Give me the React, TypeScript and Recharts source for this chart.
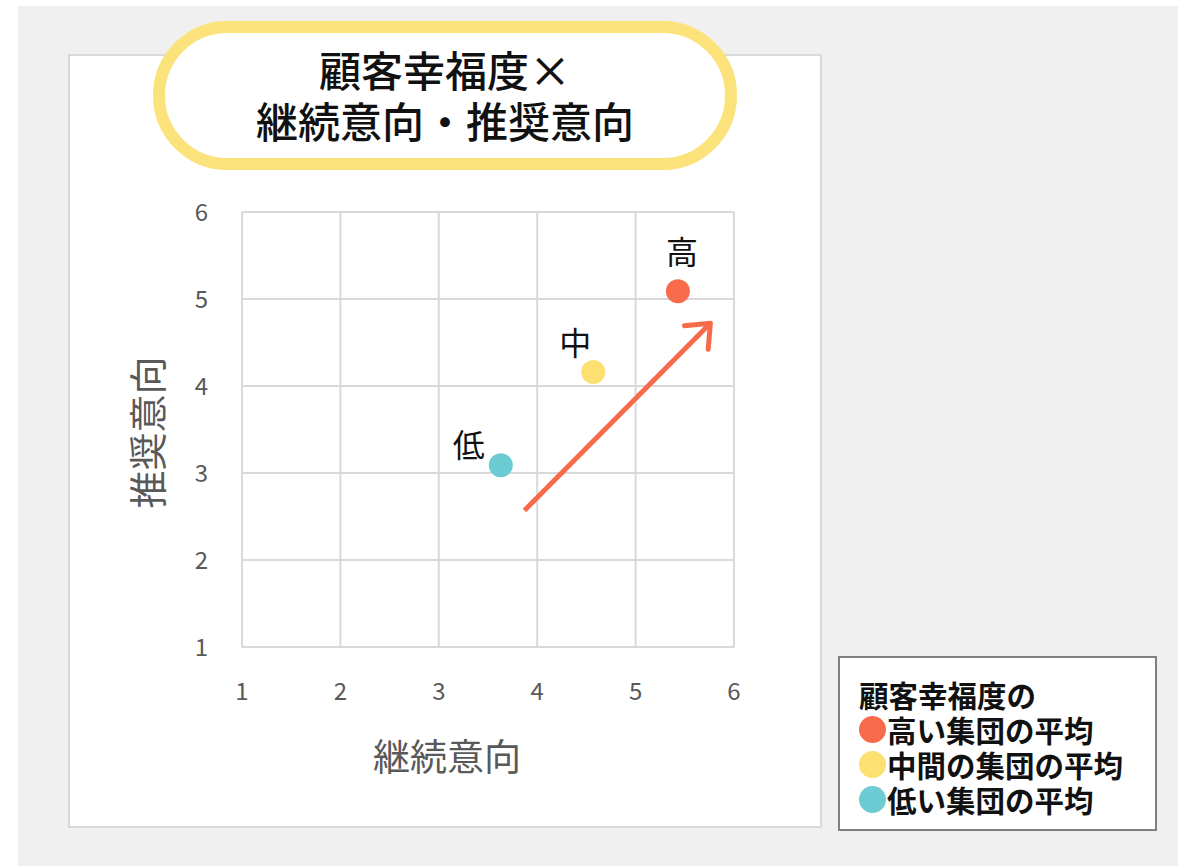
import React from 'react';
import {
  ScatterChart,
  Scatter,
  XAxis,
  YAxis,
  CartesianGrid,
  ReferenceLine,
} from 'recharts';

// group averages (継続意向, 推奨意向)
const groups = ['高', '中', '低'];
const continueIntent = [5.43, 4.57, 3.63];
const recommendIntent = [5.09, 4.16, 3.09];
const legendNames = ['高い集団の平均', '中間の集団の平均', '低い集団の平均'];
const axisTicks = [1, 2, 3, 4, 5, 6];
const arrowFrom = [3.87, 2.57];
const arrowTo = [5.76, 4.72];

const COLORS = ['#f76b4a', '#fce072', '#6ccbd3'];
const LABEL_OFFSET = [
  [4, -41],
  [-18, -31],
  [-32, -22],
];
const FONT = '"Noto Sans CJK JP", "Noto Sans", sans-serif';

const series = groups.map((g, i) => ({
  name: legendNames[i],
  color: COLORS[i],
  data: [{ x: continueIntent[i], y: recommendIntent[i], label: g }],
}));

function ArrowShape(props: any) {
  const { x1, y1, x2, y2 } = props;
  const ang = Math.atan2(y2 - y1, x2 - x1);
  const len = 26;
  const spread = (40 * Math.PI) / 180;
  const ax = x2 - len * Math.cos(ang - spread);
  const ay = y2 - len * Math.sin(ang - spread);
  const bx = x2 - len * Math.cos(ang + spread);
  const by = y2 - len * Math.sin(ang + spread);
  return (
    <g>
      <line x1={x1} y1={y1} x2={x2} y2={y2} stroke="#f76b4a" strokeWidth={5} />
      <polyline
        points={`${ax},${ay} ${x2},${y2} ${bx},${by}`}
        fill="none"
        stroke="#f76b4a"
        strokeWidth={5}
        strokeLinecap="round"
        strokeLinejoin="round"
      />
    </g>
  );
}

export default function App() {
  return (
    <div
      style={{
        position: 'absolute',
        left: 0,
        top: 0,
        width: 1178,
        height: 866,
        background: '#fff',
        fontFamily: FONT,
      }}
    >
      <div
        style={{
          position: 'absolute',
          left: 18,
          top: 6,
          width: 1160,
          height: 860,
          background: '#f0f0f0',
        }}
      />
      <div
        style={{
          position: 'absolute',
          left: 68,
          top: 54,
          width: 754,
          height: 774,
          boxSizing: 'border-box',
          background: '#fff',
          border: '2px solid #d9d9d9',
        }}
      />
      <div
        style={{
          position: 'absolute',
          left: 0,
          top: 0,
        }}
      >
        <ScatterChart
          width={1178}
          height={866}
          margin={{ top: 212, right: 444, bottom: 0, left: 48 }}
          style={{ fontFamily: FONT }}
        >
          <CartesianGrid stroke="#d9d9d9" strokeWidth={2} />
          <XAxis
            type="number"
            dataKey="x"
            domain={[1, 6]}
            ticks={axisTicks}
            height={219}
            axisLine={false}
            tickLine={false}
            tickSize={0}
            tickMargin={36}
            tick={{ fill: '#595959', fontSize: 24 }}
            label={{
              content: ({ viewBox }: any) => (
                <text
                  x={viewBox.x + viewBox.width / 2 - 41}
                  y={771}
                  textAnchor="middle"
                  fill="#595959"
                  fontSize={37}
                >
                  継続意向
                </text>
              ),
            }}
          />
          <YAxis
            type="number"
            dataKey="y"
            domain={[1, 6]}
            ticks={axisTicks}
            width={194}
            axisLine={false}
            tickLine={false}
            tickSize={0}
            tickMargin={34}
            tick={{ fill: '#595959', fontSize: 24 }}
            label={{
              content: ({ viewBox }: any) => {
                const cx = viewBox.x + viewBox.width / 2;
                const cy = viewBox.y + viewBox.height / 2 + 3;
                return (
                  <text
                    x={cx}
                    y={cy}
                    textAnchor="middle"
                    dominantBaseline="central"
                    transform={`rotate(-90, ${cx}, ${cy})`}
                    fill="#595959"
                    fontSize={38}
                  >
                    推奨意向
                  </text>
                );
              },
            }}
          />
          <ReferenceLine
            segment={[
              { x: arrowFrom[0], y: arrowFrom[1] },
              { x: arrowTo[0], y: arrowTo[1] },
            ]}
            shape={ArrowShape}
          />
          {series.map((s, i) => (
            <Scatter
              key={s.name}
              name={s.name}
              data={s.data}
              fill={s.color}
              isAnimationActive={false}
              shape={(p: any) => (
                <g>
                  <circle cx={p.cx} cy={p.cy} r={12} fill={s.color} />
                  <text
                    x={p.cx + LABEL_OFFSET[i][0]}
                    y={p.cy + LABEL_OFFSET[i][1]}
                    textAnchor="middle"
                    dominantBaseline="central"
                    fontSize={32}
                    fill="#111"
                  >
                    {p.payload.label}
                  </text>
                </g>
              )}
            />
          ))}
        </ScatterChart>
      </div>
      <div
        style={{
          position: 'absolute',
          left: 153,
          top: 21,
          width: 584,
          height: 149,
          boxSizing: 'border-box',
          border: '12px solid #fce27a',
          borderRadius: 75,
          background: '#fff',
          display: 'flex',
          flexDirection: 'column',
          alignItems: 'center',
          justifyContent: 'center',
          fontSize: 42,
          fontWeight: 500,
          lineHeight: '51px',
          color: '#111',
          paddingBottom: 4,
        }}
      >
        <div>顧客幸福度×</div>
        <div>継続意向・推奨意向</div>
      </div>
      <div
        style={{
          position: 'absolute',
          left: 838,
          top: 656,
          width: 319,
          height: 175,
          boxSizing: 'border-box',
          border: '2px solid #808080',
          background: '#fff',
          padding: '19px 0 0 19px',
          fontSize: 29.5,
          fontWeight: 700,
          lineHeight: '35px',
          color: '#111',
          whiteSpace: 'nowrap',
        }}
      >
        <div>顧客幸福度の</div>
        {series.map((s) => (
          <div key={s.name} style={{ display: 'flex', alignItems: 'center' }}>
            <span
              style={{
                display: 'inline-block',
                width: 27,
                height: 27,
                borderRadius: '50%',
                background: s.color,
                marginRight: 1,
                flexShrink: 0,
              }}
            />
            {s.name}
          </div>
        ))}
      </div>
    </div>
  );
}
